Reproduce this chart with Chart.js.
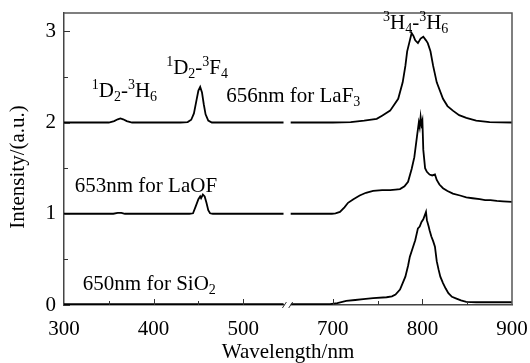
<!DOCTYPE html>
<html>
<head>
<meta charset="utf-8">
<script src="https://cdn.jsdelivr.net/npm/chart.js@4.4.0/dist/chart.umd.min.js"></script>
<style>
  html, body { margin: 0; padding: 0; background: #fff; }
  #wrap { width: 530px; height: 363px; }
</style>
</head>
<body>
<div id="wrap"><canvas id="grafico" width="530" height="363"></canvas></div>
<script>
// ---- dados ----
const laf3Wl  = [300, 330, 350, 356, 360, 363, 366, 370, 376, 400, 430, 438, 442, 445, 448, 450, 452, 454, 456, 458, 461, 465, 500, 545,
                 653, 700, 720, 735, 749, 755, 764, 773, 778, 781, 783, 786, 788, 790, 792, 795, 798, 801, 804, 806, 809, 812, 816, 823, 828, 834, 841, 849, 860, 875, 900];
const laf3Int = [2.0, 2.0, 2.0, 2.015, 2.035, 2.045, 2.035, 2.015, 2.0, 2.0, 2.0, 2.005, 2.03, 2.1, 2.25, 2.35, 2.39, 2.33, 2.2, 2.09, 2.02, 2.0, 2.0, 2.0,
                 2.0, 2.0, 2.005, 2.02, 2.04, 2.075, 2.13, 2.26, 2.44, 2.62, 2.78, 2.9, 2.98, 2.95, 2.9, 2.87, 2.92, 2.94, 2.9, 2.87, 2.78, 2.62, 2.44, 2.26, 2.18, 2.13, 2.08, 2.05, 2.02, 2.005, 2.0];

const laofWl  = [300, 355, 360, 364, 368, 440, 444, 447, 450, 452, 453, 455, 457, 459, 461, 463, 466, 545,
                 653, 699, 703, 708, 713, 717, 723, 730, 737, 745, 755, 764, 770, 775, 780, 784, 788, 791, 794, 796, 797, 798, 799, 800, 801, 803, 805, 808, 811, 814, 816, 819, 823, 828, 834, 842, 849, 856, 864, 870, 876, 883, 890, 900];
const laofInt = [1.0, 1.0, 1.01, 1.01, 1.0, 1.0, 1.005, 1.08, 1.16, 1.19, 1.17, 1.21, 1.19, 1.12, 1.04, 1.005, 1.0, 1.0,
                 1.0, 1.0, 1.005, 1.02, 1.07, 1.12, 1.16, 1.2, 1.23, 1.25, 1.26, 1.26, 1.265, 1.27, 1.3, 1.35, 1.49, 1.62, 1.85, 2.0, 1.95, 2.06, 1.98, 2.02, 1.7, 1.5, 1.46, 1.43, 1.42, 1.43, 1.37, 1.32, 1.28, 1.25, 1.22, 1.2, 1.18, 1.17, 1.16, 1.15, 1.15, 1.14, 1.135, 1.13];

const sio2Wl  = [300, 400, 500, 545,
                 653, 697, 705, 715, 725, 734, 745, 760, 766, 770, 775, 778, 781, 784, 786, 789, 792, 795, 797, 799, 801, 804, 805, 807, 808, 810, 812, 814, 816, 818, 820, 823, 826, 829, 833, 838, 843, 849, 860, 900];
const sio2Int = [0.01, 0.01, 0.01, 0.01,
                 0.01, 0.01, 0.02, 0.045, 0.055, 0.065, 0.075, 0.085, 0.095, 0.115, 0.17, 0.24, 0.31, 0.43, 0.53, 0.62, 0.71, 0.84, 0.86, 0.91, 0.94, 1.02, 0.93, 0.86, 0.82, 0.75, 0.7, 0.64, 0.48, 0.39, 0.31, 0.24, 0.18, 0.13, 0.09, 0.07, 0.05, 0.035, 0.03, 0.03];

const xTickLabels = [300, 400, 500, 700, 800, 900];
const yTickLabels = [0, 1, 2, 3];

// eixo quebrado: 550-650 nm é suprimido
const paraTela = wl => wl > 600 ? wl - 100 : wl;
const paraNm = d => d > 550 ? d + 100 : d;

function montarSerie(wl, inten) {
    const pts = [];
    for (let i = 0; i < wl.length; i++) {
        if (i > 0 && wl[i - 1] < 600 && wl[i] > 600) pts.push({ x: 550, y: null });
        pts.push({ x: paraTela(wl[i]), y: inten[i] });
    }
    return pts;
}

const serif = "'Liberation Serif', 'Times New Roman', serif";

// textos com sobrescrito/subscrito: [texto, 0 normal | 1 sup | -1 sub]
const anotacoes = [
    { x: 331, y: 2.28, partes: [['1', 1], ['D', 0], ['2', -1], ['-', 0], ['3', 1], ['H', 0], ['6', -1]] },
    { x: 414, y: 2.53, partes: [['1', 1], ['D', 0], ['2', -1], ['-', 0], ['3', 1], ['F', 0], ['4', -1]] },
    { x: 481, y: 2.23, partes: [['656nm for LaF', 0], ['3', -1]] },
    { x: 656, y: 3.03, partes: [['3', 1], ['H', 0], ['4', -1], ['-', 0], ['3', 1], ['H', 0], ['6', -1]] },
    { x: 312, y: 1.24, partes: [['653nm for LaOF', 0]] },
    { x: 321, y: 0.16, partes: [['650nm for SiO', 0], ['2', -1]] }
];

const pluginMolduras = {
    id: 'molduras',
    afterDatasetsDraw(chart) {
        const c = chart.ctx;
        const area = chart.chartArea;
        const sx = chart.scales.x, sy = chart.scales.y;
        c.save();
        // ticks internos
        c.strokeStyle = '#333';
        c.lineWidth = 1;
        sy.ticks.forEach(t => {
            const py = Math.round(sy.getPixelForValue(t.value)) + 0.5;
            const len = Number.isInteger(t.value) ? 6 : 4;
            c.beginPath(); c.moveTo(area.left, py); c.lineTo(area.left + len, py); c.stroke();
        });
        sx.ticks.forEach(t => {
            if (t.value === 550 || t.value === 300 || t.value === 800) return;
            const px = Math.round(sx.getPixelForValue(t.value)) + 0.5;
            const len = t.value % 100 === 0 ? 6 : 4;
            c.beginPath(); c.moveTo(px, area.bottom); c.lineTo(px, area.bottom - len); c.stroke();
        });
        // topo e direita
        c.strokeStyle = '#555';
        c.lineWidth = 1.5;
        c.beginPath();
        c.moveTo(area.left, area.top); c.lineTo(area.right, area.top); c.lineTo(area.right, area.bottom);
        c.stroke();
        // quebra do eixo
        const xa = sx.getPixelForValue(546), xb = sx.getPixelForValue(553);
        c.fillStyle = '#fff';
        c.fillRect(xa, area.bottom - 2, xb - xa, 4);
        c.strokeStyle = '#333';
        c.lineWidth = 1;
        [xa, xb].forEach(px => {
            c.beginPath(); c.moveTo(px - 2, area.bottom + 3); c.lineTo(px + 2, area.bottom - 3); c.stroke();
        });
        // anotações
        c.fillStyle = '#000';
        c.textBaseline = 'alphabetic';
        anotacoes.forEach(a => {
            let px = sx.getPixelForValue(a.x);
            const py = sy.getPixelForValue(a.y);
            a.partes.forEach(([txt, tipo]) => {
                const tam = tipo === 0 ? 21 : 14;
                c.font = tam + 'px ' + serif;
                const dy = tipo === 1 ? -8 : (tipo === -1 ? 4 : 0);
                c.fillText(txt, px, py + dy);
                px += c.measureText(txt).width;
            });
        });
        // título do eixo y
        c.translate(18, (area.top + area.bottom) / 2 + 8);
        c.rotate(-Math.PI / 2);
        c.font = '21px ' + serif;
        c.textAlign = 'center';
        c.textBaseline = 'middle';
        c.fillText('Intensity/(a.u.)', 0, 0);
        c.restore();
    }
};

const ctx = document.getElementById('grafico').getContext('2d');
new Chart(ctx, {
    type: 'line',
    data: {
        datasets: [
            { data: montarSerie(laf3Wl, laf3Int) },
            { data: montarSerie(laofWl, laofInt) },
            { data: montarSerie(sio2Wl, sio2Int) }
        ].map(d => Object.assign(d, {
            borderColor: '#000', borderWidth: 1.8, pointRadius: 0, tension: 0, spanGaps: false, fill: false
        }))
    },
    options: {
        responsive: false,
        animation: false,
        devicePixelRatio: 1,
        layout: { padding: { top: 13, right: 18, left: 0, bottom: 0 } },
        plugins: { legend: { display: false }, tooltip: { enabled: false } },
        scales: {
            x: {
                type: 'linear', min: 300, max: 800,
                afterFit: s => { s.height = 58; s.paddingLeft = 0; s.paddingRight = 0; },
                afterBuildTicks: s => {
                    s.ticks = [];
                    for (let v = 300; v <= 800; v += 50) s.ticks.push({ value: v });
                },
                grid: { display: false, drawTicks: false },
                border: { display: true, color: '#444', width: 1.5 },
                ticks: {
                    padding: 12, color: '#000', font: { family: serif, size: 21 }, maxRotation: 0, autoSkip: false,
                    callback: v => xTickLabels.includes(paraNm(v)) && v % 100 === 0 ? String(paraNm(v)) : ''
                },
                title: { display: true, text: 'Wavelength/nm', color: '#000', font: { family: serif, size: 21, lineHeight: 1.0 }, padding: 0 }
            },
            y: {
                min: 0, max: 3.2,
                afterFit: s => { s.width = 64; s.paddingTop = 0; s.paddingBottom = 0; },
                afterBuildTicks: s => {
                    s.ticks = [];
                    for (let v = 0; v <= 3; v += 0.5) s.ticks.push({ value: v });
                },
                grid: { display: false, drawTicks: false },
                border: { display: true, color: '#444', width: 1.5 },
                ticks: {
                    padding: 8, color: '#000', font: { family: serif, size: 21 }, autoSkip: false,
                    callback: v => yTickLabels.includes(v) ? String(v) : ''
                },
                title: { display: false }
            }
        }
    },
    plugins: [pluginMolduras]
});
</script>
</body>
</html>
